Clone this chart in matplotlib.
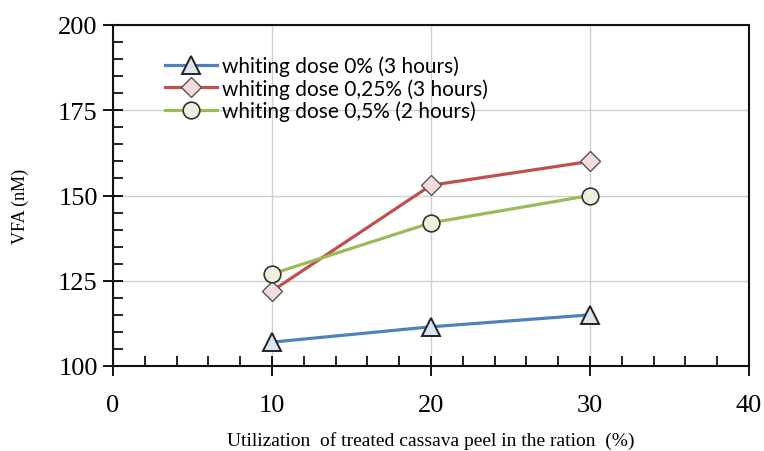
import matplotlib
matplotlib.use("Agg")
import matplotlib.pyplot as plt
from matplotlib.ticker import MultipleLocator

# utilization of treated cassava peel (%)
utilization = [10, 20, 30]

# VFA (nM) for each whiting dose
dose_0 = [107, 111.5, 115]
dose_025 = [122, 153, 160]
dose_05 = [127, 142, 150]

labels = ["whiting dose 0% (3 hours)",
          "whiting dose 0,25% (3 hours)",
          "whiting dose 0,5% (2 hours)"]

serif = ["Liberation Serif", "DejaVu Serif"]

fig = plt.figure(figsize=(7.64, 4.52), dpi=100)
ax = fig.add_axes([113 / 764, 1 - 367 / 452, 636 / 764, 341 / 452])

ax.plot(utilization, dose_0, color="#4F81BD", lw=2.3, marker="^", ms=13,
        mfc="#DCE6F2", mec="#222222", mew=1.4, label=labels[0])
ax.plot(utilization, dose_025, color="#C0504D", lw=2.3, marker="D", ms=10,
        mfc="#F2DCDB", mec="#555555", mew=1.0, label=labels[1])
ax.plot(utilization, dose_05, color="#9BBB59", lw=2.3, marker="o", ms=12,
        mfc="#EBF1DE", mec="#333333", mew=1.2, label=labels[2])

ax.set_xlim(0, 40)
ax.set_ylim(100, 200)
ax.xaxis.set_major_locator(MultipleLocator(10))
ax.xaxis.set_minor_locator(MultipleLocator(2))
ax.yaxis.set_major_locator(MultipleLocator(25))
ax.yaxis.set_minor_locator(MultipleLocator(5))

ax.grid(True, which="major", color="#D0D0D0", lw=1)
ax.set_axisbelow(True)

for s in ax.spines.values():
    s.set_linewidth(1.5)
    s.set_color("#111111")

ax.tick_params(which="major", direction="inout", length=14, width=1.3,
               top=False, right=False, pad=4)
ax.tick_params(which="minor", direction="in", length=7, width=1.2,
               top=False, right=False)
for t in ax.get_xticklabels() + ax.get_yticklabels():
    t.set_family(serif)
    t.set_fontsize(19)
ax.tick_params(axis="x", pad=13)

ax.set_xlabel("Utilization  of treated cassava peel in the ration  (%)",
              family=serif, fontsize=14)
ax.xaxis.set_label_coords(0.5, -0.19)
ax.set_ylabel("VFA (nM)", family=serif, fontsize=13)
ax.yaxis.set_label_coords(-0.132, 0.47)

leg = ax.legend(loc="upper left", bbox_to_anchor=(0.068, 0.935), frameon=False,
                prop={"family": ["Lato", "DejaVu Sans"], "size": 15},
                handlelength=2.5, handletextpad=0.25, labelspacing=0.1,
                borderaxespad=0)

fig.savefig("out.png", dpi=100)
